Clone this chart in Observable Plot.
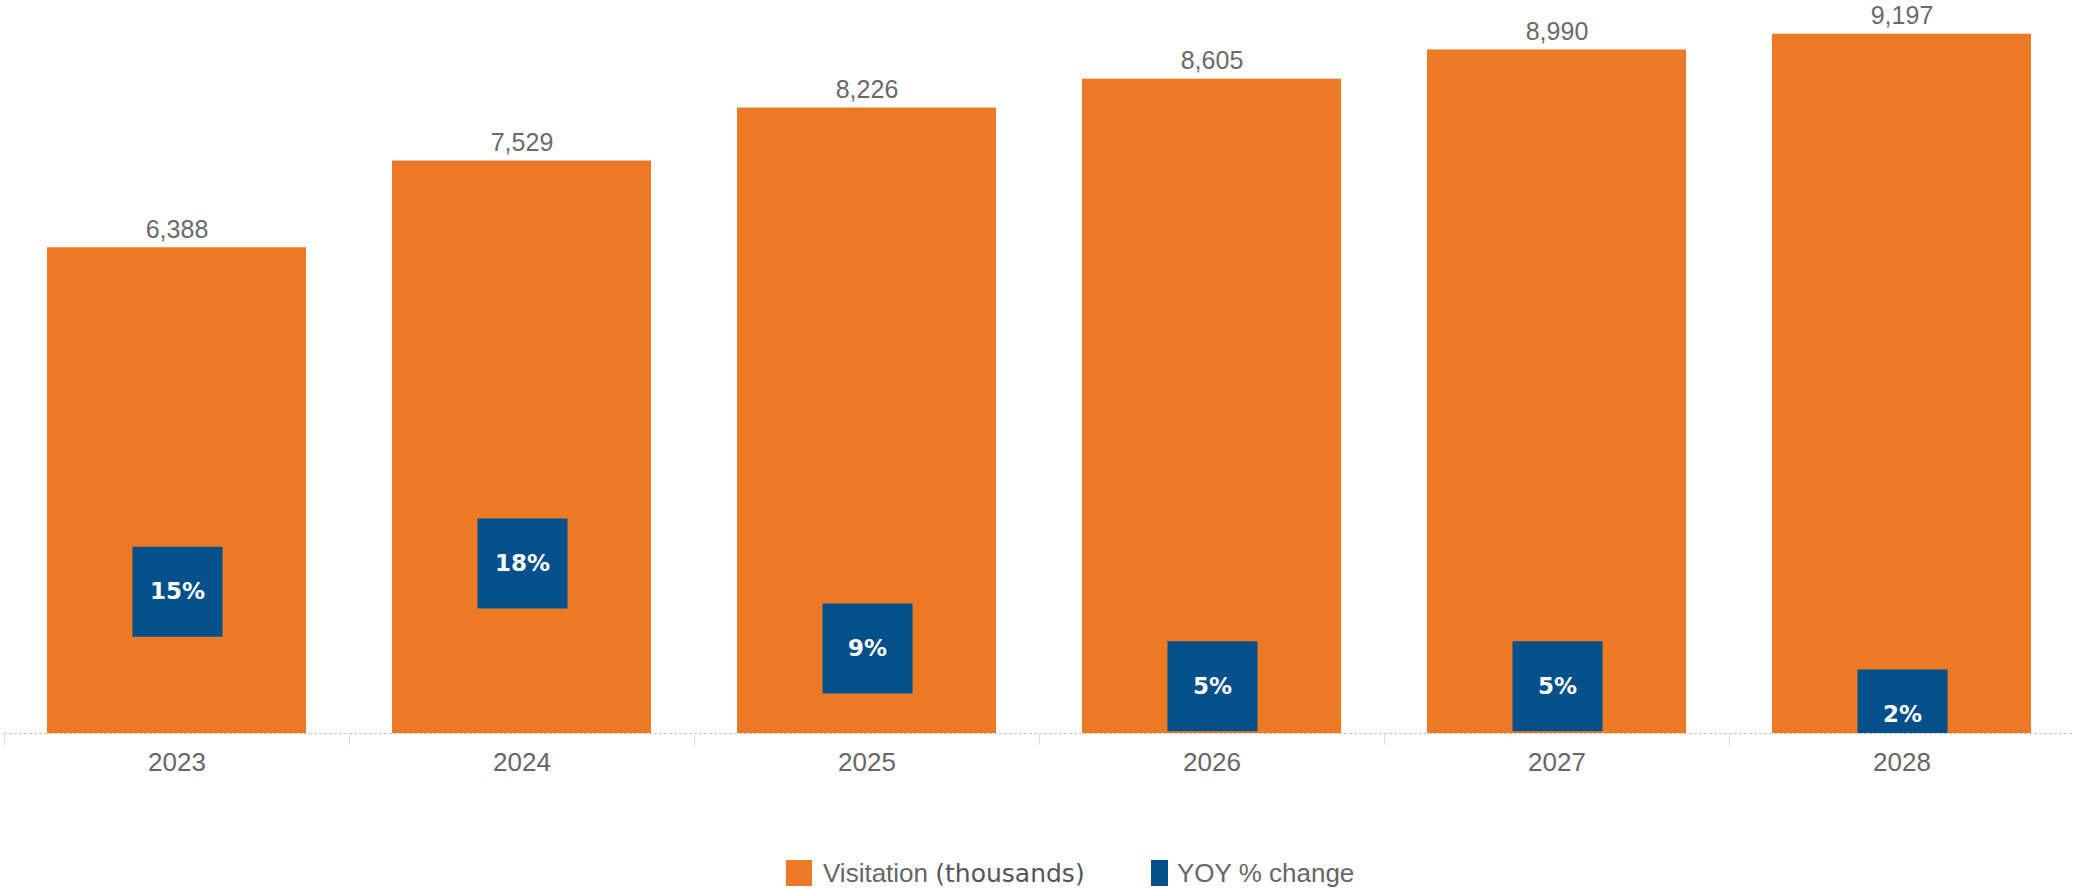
<!DOCTYPE html>
<html>
<head>
<meta charset="utf-8">
<script src="https://cdn.jsdelivr.net/npm/d3@7"></script>
<script src="https://cdn.jsdelivr.net/npm/@observablehq/plot@0.6"></script>
<style>
  html, body { margin: 0; padding: 0; background: #fff; }
  #wrap { position: relative; width: 2074px; }
  #overlay { position: absolute; left: 0; top: 0; pointer-events: none; }
  #legend { position: relative; width: 2074px; height: 44px; font-family: "Liberation Sans", Arial, sans-serif; }
  #legend .sw { position: absolute; top: 15px; height: 26px; }
  #legend .lab { position: absolute; top: 13px; font-size: 26px; line-height: 30px; color: #666; white-space: nowrap; }
  #legend .sub { font-family: "DejaVu Sans", sans-serif; font-size: 25px; color: #555; }
</style>
</head>
<body>
<div id="wrap"></div>
<div id="legend"></div>
<script>
// ---- data ----
const years = ["2023", "2024", "2025", "2026", "2027", "2028"];
const visitation = [6388, 7529, 8226, 8605, 8990, 9197];
const yoy = [15, 18, 9, 5, 5, 2];
const yoyLabels = ["15%", "18%", "9%", "5%", "5%", "2%"];
const legendLabels = ["Visitation", "(thousands)", "YOY % change"];

const orange = "#ec7a25";
const blue = "#04508a";

const data = years.map((year, i) => ({year, visitation: visitation[i], yoy: yoy[i], label: yoyLabels[i]}));

const W = 2074, H = 845, mL = 4, mR = 0, mT = 0, mB = 112;
const step = (W - mL - mR) / years.length;
const xOpts = {domain: years, paddingInner: 0.25, paddingOuter: 0.125};

const main = Plot.plot({
  width: W, height: H, marginTop: mT, marginBottom: mB, marginLeft: mL, marginRight: mR,
  style: {fontFamily: "'Liberation Sans', Arial, sans-serif", fontSize: "26px", background: "white", color: "#666", overflow: "visible"},
  x: {...xOpts, label: null},
  y: {domain: [0, 9640], axis: null},
  marks: [
    Plot.barY(data, {x: "year", y: "visitation", fill: orange}),
    Plot.ruleY([0], {stroke: "#c4c4c4", strokeDasharray: "3,2"}),
    Plot.axisX({tickSize: 12, tickFormat: () => "", stroke: "#dcdcdc", dx: -step / 2, label: null}),
    Plot.axisX({tickSize: 0, tickPadding: 19, fill: "#666", fontSize: 26, label: null}),
    Plot.text(data, {x: "year", y: "visitation", text: d => d3.format(",")(d.visitation),
      lineAnchor: "bottom", dy: -10, fill: "#6a6a6a", fontSize: 25})
  ]
});

const overlay = Plot.plot({
  width: W, height: H, marginTop: mT, marginBottom: mB, marginLeft: mL, marginRight: mR,
  style: {background: "transparent", fontFamily: "'DejaVu Sans', sans-serif"},
  x: {...xOpts, axis: null},
  y: {domain: [0, 77.6], axis: null},
  marks: [
    Plot.dot(data, {x: "year", y: "yoy", symbol: "square", r: 50.8, fill: blue, stroke: "none", clip: true}),
    Plot.text(data, {x: "year", y: "yoy", text: "label", fill: "white", fontWeight: "bold", fontSize: 23})
  ]
});
overlay.id = "overlay";

const wrap = document.getElementById("wrap");
wrap.appendChild(main);
wrap.appendChild(overlay);

const legend = document.getElementById("legend");
legend.innerHTML = `
  <div class="sw" style="left:786px;width:26px;background:${orange}"></div>
  <div class="lab" style="left:823px">${legendLabels[0]} <span class="sub">${legendLabels[1]}</span></div>
  <div class="sw" style="left:1151px;width:17px;background:${blue}"></div>
  <div class="lab" style="left:1177px">${legendLabels[2]}</div>
`;
</script>
</body>
</html>
